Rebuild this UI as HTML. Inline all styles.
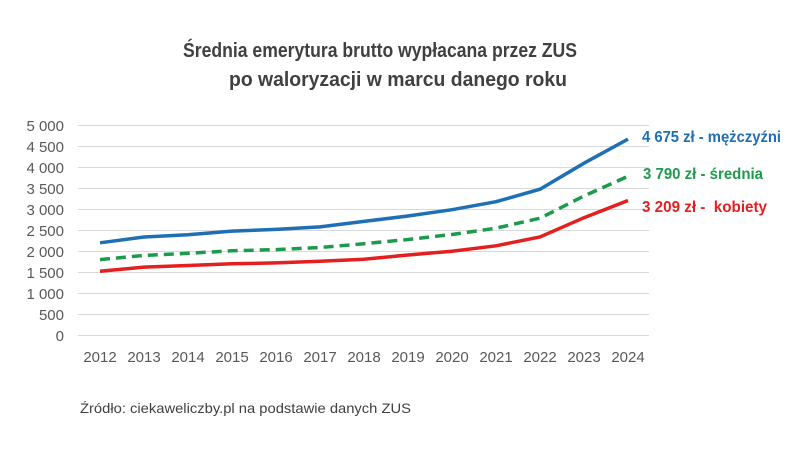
<!DOCTYPE html>
<html><head><meta charset="utf-8"><style>
body{margin:0;background:#fff;width:800px;height:445px;overflow:hidden;font-family:"Liberation Sans",sans-serif}
</style></head><body>
<svg width="800" height="445" xmlns="http://www.w3.org/2000/svg" font-family="Liberation Sans, sans-serif">
<text x="183" y="57" textLength="394" lengthAdjust="spacingAndGlyphs" font-size="20" font-weight="bold" fill="#404040">Średnia emerytura brutto wypłacana przez ZUS</text>
<text x="229" y="86" textLength="338" lengthAdjust="spacingAndGlyphs" font-size="20" font-weight="bold" fill="#404040">po waloryzacji w marcu danego roku</text>
<g stroke="#d9d9d9" stroke-width="1">
<line x1="78" x2="649" y1="125.5" y2="125.5"/><line x1="78" x2="649" y1="146.5" y2="146.5"/><line x1="78" x2="649" y1="167.5" y2="167.5"/><line x1="78" x2="649" y1="188.5" y2="188.5"/><line x1="78" x2="649" y1="209.5" y2="209.5"/><line x1="78" x2="649" y1="230.5" y2="230.5"/><line x1="78" x2="649" y1="251.5" y2="251.5"/><line x1="78" x2="649" y1="272.5" y2="272.5"/><line x1="78" x2="649" y1="293.5" y2="293.5"/><line x1="78" x2="649" y1="314.5" y2="314.5"/><line x1="78" x2="649" y1="335.5" y2="335.5"/>
</g>
<g font-size="15" fill="#595959" text-anchor="end">
<text x="64" y="131">5 000</text><text x="64" y="152">4 500</text><text x="64" y="173">4 000</text><text x="64" y="194">3 500</text><text x="64" y="215">3 000</text><text x="64" y="236">2 500</text><text x="64" y="257">2 000</text><text x="64" y="278">1 500</text><text x="64" y="299">1 000</text><text x="64" y="320">500</text><text x="64" y="341">0</text>
</g>
<g font-size="15" fill="#595959" text-anchor="middle">
<text x="100" y="362">2012</text><text x="144" y="362">2013</text><text x="188" y="362">2014</text><text x="232" y="362">2015</text><text x="276" y="362">2016</text><text x="320" y="362">2017</text><text x="364" y="362">2018</text><text x="408" y="362">2019</text><text x="452" y="362">2020</text><text x="496" y="362">2021</text><text x="540" y="362">2022</text><text x="584" y="362">2023</text><text x="628" y="362">2024</text>
</g>
<polyline fill="none" stroke="#1f6fb4" stroke-width="3.5" points="100,242.8 144,237 188,234.8 232,231.1 276,229.4 320,226.9 364,221.4 408,216 452,209.7 496,201.7 540,189.2 584,163.2 628,139.1"/>
<polyline fill="none" stroke="#1e9a4c" stroke-width="3.5" stroke-dasharray="10,6" points="100,259.6 144,255.4 188,253.3 232,250.8 276,249.6 320,247.5 364,243.7 408,239.5 452,234.5 496,228.2 540,218.2 584,196 628,176.3"/>
<polyline fill="none" stroke="#e41f1f" stroke-width="3.5" points="100,271.3 144,267.1 188,265.5 232,263.8 276,262.9 320,261.3 364,259.2 408,255 452,251.2 496,245.8 540,237 584,217.7 628,200.5"/>
<g font-size="16" font-weight="bold">
<text x="642" y="142" textLength="139" lengthAdjust="spacingAndGlyphs" fill="#1f6fb4">4 675 zł - mężczyźni</text>
<text x="643" y="179" textLength="120" lengthAdjust="spacingAndGlyphs" fill="#1e9a4c">3 790 zł - średnia</text>
<text x="642" y="212" textLength="125" lengthAdjust="spacingAndGlyphs" fill="#e41f1f">3 209 zł - &#160;kobiety</text>
</g>
<text x="80" y="413" textLength="331" lengthAdjust="spacingAndGlyphs" font-size="14" fill="#404040">Źródło: ciekaweliczby.pl na podstawie danych ZUS</text>
</svg>
</body></html>
